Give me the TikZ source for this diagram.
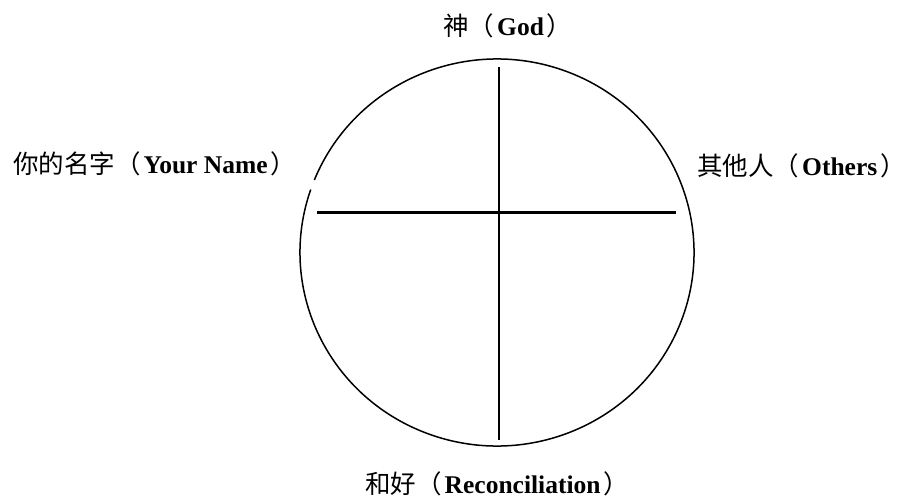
\documentclass[tikz,border=0pt]{standalone}
\usepackage{fontspec}
\setmainfont{Liberation Serif}
\newfontfamily\cjk{Noto Sans CJK SC}
\newcommand{\lp}{{\cjk （}\hspace{3pt}}
\newcommand{\rp}{\hspace{3pt}{\cjk ）}\hspace{-12pt}}
\begin{document}
\begin{tikzpicture}[x=1pt,y=-1pt,
  lbl/.style={font=\fontsize{25.5}{28}\selectfont, inner sep=0pt, anchor=base west},
  crossline/.style={line width=2.5pt},
  ring/.style={line width=1.5pt}]
\useasboundingbox (0,0) rectangle (908,498);
% circle with small gap on the left
\coordinate (c) at (497,252.5);
\draw[ring] (c) ++(202:197 and 193.5) arc[start angle=202, end angle=559, x radius=197, y radius=193.5];
% cross
\coordinate (vt) at (499,67);
\coordinate (vb) at (499,440);
\coordinate (hl) at (317,212.5);
\coordinate (hr) at (676,212.5);
\draw[crossline] (vt) -- (vb);
\draw[crossline] (hl) -- (hr);
% labels
\node[lbl] (god) at (443,35) {{\cjk 神}\lp\textbf{God}\rp};
\node[lbl] (me) at (13,173) {{\cjk 你的名字}\lp\textbf{Your Name}\rp};
\node[lbl] (others) at (697,175) {{\cjk 其他人}\lp\textbf{Others}\rp};
\node[lbl] (rec) at (365,493) {{\cjk 和好}\lp\textbf{Reconciliation}\rp};
\end{tikzpicture}
\end{document}
